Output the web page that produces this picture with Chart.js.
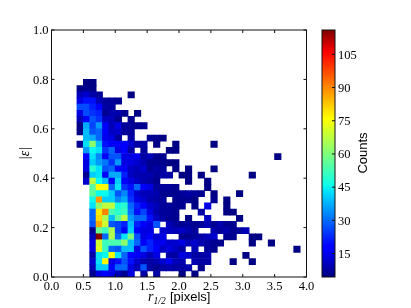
<!DOCTYPE html>
<html>
<head>
<meta charset="utf-8">
<title>Counts</title>
<style>
    html, body { margin: 0; padding: 0; background: #ffffff; }
    canvas { position: absolute; left: 0; top: 0; filter: blur(0.35px); }
</style>
<script src="https://cdn.jsdelivr.net/npm/chart.js@4"></script>
</head>
<body>
<canvas id="chartHist" width="411" height="308"></canvas>
<canvas id="chartBar" width="411" height="308"></canvas>
<script>
// Bin sizes of the 2D histogram
const binX = 0.1;
const binY = 0.025;
const firstCol = 4;

// Counts per row, first line is the top row (j = 31), columns start at r = 0.4, 0 = empty
const counts = [
    [0,5,5],
    [5,6,5],
    [10,12,8,7,0,0,0,0,5],
    [14,20,20,10,7,7,6],
    [27,27,22,17,8,7],
    [14,27,24,22,6,9,9,6,0,5],
    [10,16,28,24,11,10,6,0,6],
    [5,38,26,36,18,10,14,7,7,6,6],
    [5,40,28,30,16,11,12,7,7],
    [0,40,38,30,15,14,7,0,8,0,0,6,6,5],
    [6,44,62,40,20,16,18,17,12,8,8,0,5,0,0,5,0,0,0,0,0,5],
    [0,36,46,44,24,30,14,18,8,0,7,0,0,0,5,5],
    [0,18,44,34,16,28,28,14,14,15,8,10,6,6,0,0,0,0,0,0,0,0,0,0,0,0,0,0,0,0,0,5],
    [0,14,42,36,32,24,36,14,14,12,9,6,6,6,5,5],
    [0,14,50,44,28,30,16,16,11,10,12,6,8,7,0,5,0,5,0,0,0,5],
    [0,6,42,44,16,38,38,22,11,9,9,9,7,8,8,0,5,5,0,5,0,0,0,0,0,0,0,5],
    [0,12,68,46,40,18,42,18,14,11,9,8,6,0,0,0,0,5,0,0,5],
    [0,0,56,76,76,30,44,24,20,30,16,14,7,7,7,6,0,0,0,0,5],
    [0,0,56,46,46,42,28,34,22,12,10,10,9,6,6,6,7,8,7,6,0,5,0,0,0,5],
    [0,0,46,88,42,42,34,38,24,14,12,9,8,7,0,6,6,6,5,0,0,6,0,5],
    [0,0,44,62,68,68,48,50,30,22,16,12,10,7,7,6,6,0,5,0,14,0,0,5],
    [0,0,30,78,90,54,50,52,32,20,26,14,9,7,7,6,0,0,0,8,0,0,0,5,5],
    [0,0,30,80,66,40,56,68,36,30,30,20,11,8,6,6,0,5,0,0,11,0,0,0,0,5],
    [0,0,28,86,70,28,26,22,40,22,18,14,28,0,10,7,6,7,6,7,10,6,9,6,6],
    [0,0,6,58,52,66,26,16,42,18,14,14,0,12,11,10,11,9,7,0,0,9,7,9,6,7,10],
    [0,0,10,116,30,66,30,44,60,28,14,16,12,14,0,0,6,6,7,8,10,12,0,6,6,0,0,5,5],
    [0,0,14,70,52,54,54,62,40,30,16,22,15,15,12,12,14,10,12,9,8,6,6,0,0,0,0,5,0,0,5],
    [0,0,14,72,52,30,28,40,40,14,28,22,17,11,14,11,8,0,10,0,7,6,0,0,0,0,0,0,0,0,0,0,0,0,5],
    [0,0,8,44,46,76,44,30,18,16,14,10,14,0,8,8,14,12,8,8,9,0,0,0,0,0,5],
    [0,0,12,44,76,14,20,28,20,12,9,8,9,12,15,10,9,0,9,8,8,0,0,0,5,0,0,5],
    [0,0,10,42,42,18,30,30,14,10,28,8,6,8,9,8,8,9,0,6],
    [0,0,6,14,18,14,10,6,14,0,8,0,8,0,0,0,5,0,5]
];

const xTicks = [0, 0.5, 1, 1.5, 2, 2.5, 3, 3.5, 4];
const yTicks = [0, 0.2, 0.4, 0.6, 0.8, 1];
const barTicks = [15, 30, 45, 60, 75, 90, 105];

const countMin = 4.4;
const countMax = 116;

// matplotlib jet colormap
const jetStops = [
    [0, '#00007f'], [0.11, '#0000ff'], [0.125, '#0000ff'], [0.34, '#00dcff'], [0.375, '#0fffe7'],
    [0.64, '#ffff00'], [0.66, '#ffee00'], [0.89, '#ff1300'], [0.91, '#ff0000'], [1, '#7f0000']
];

function jetColor(t) {
    const pts = [[0,0,0,127],[0.11,0,0,255],[0.125,0,0,255],[0.35,0,219,255],[0.375,10,255,237],
        [0.64,255,255,0],[0.66,255,236,0],[0.89,255,18,0],[0.91,227,0,0],[1,127,0,0]];
    t = Math.max(0, Math.min(1, t));
    for (let k = 1; k < pts.length; k++) {
        if (t <= pts[k][0]) {
            const a = pts[k - 1], b = pts[k];
            const f = (t - a[0]) / (b[0] - a[0]);
            const mix = n => Math.round(a[n] + (b[n] - a[n]) * f);
            return `rgb(${mix(1)},${mix(2)},${mix(3)})`;
        }
    }
    return 'rgb(127,0,0)';
}

// --- Cells of the histogram ---
const cells = [];
const cellColors = [];
counts.forEach((fila, r) => {
    const j = counts.length - 1 - r;
    fila.forEach((valor, c) => {
        if (valor === 0) return;
        const i = firstCol + c;
        cells.push({ x: (i + 0.5) * binX, y: [j * binY, (j + 1) * binY] });
        cellColors.push(jetColor((valor - countMin) / (countMax - countMin)));
    });
});

const tickFont = { family: 'Liberation Serif', size: 12.5 };

// Inward ticks and frame, same look as the matplotlib axes
const axesFrame = {
    id: 'axesFrame',
    afterDraw(chart, args, opts) {
        const { ctx, chartArea: a, scales } = chart;
        ctx.save();
        ctx.strokeStyle = '#111111';
        ctx.lineWidth = 1;
        const line = (x1, y1, x2, y2) => {
            ctx.beginPath();
            ctx.moveTo(x1, y1);
            ctx.lineTo(x2, y2);
            ctx.stroke();
        };
        (opts.xValues || []).forEach(v => {
            const px = scales.x.getPixelForValue(v);
            line(px, a.bottom, px, a.bottom - 3);
            line(px, a.top, px, a.top + 3);
        });
        (opts.yValues || []).forEach(v => {
            const py = scales.y.getPixelForValue(v);
            if (opts.both !== false) line(a.left, py, a.left + 3, py);
            line(a.right, py, a.right - 3, py);
        });
        ctx.strokeRect(a.left, a.top, a.right - a.left, a.bottom - a.top);
        ctx.restore();
    }
};

// x title has mixed fonts, so it is drawn in three runs
const xTitle = {
    id: 'xTitle',
    afterDraw(chart) {
        const { ctx } = chart;
        ctx.save();
        ctx.fillStyle = '#000000';
        ctx.textBaseline = 'alphabetic';
        ctx.textAlign = 'left';
        ctx.font = 'italic 14px "Liberation Serif"';
        ctx.fillText('r', 148, 301);
        ctx.font = 'italic 9.5px "Liberation Serif"';
        ctx.fillText('1/2', 153.5, 304);
        ctx.font = '13px "Liberation Sans"';
        ctx.fillText('[pixels]', 170, 301);
        ctx.restore();
    }
};

// --- Main histogram ---
new Chart(document.getElementById('chartHist'), {
    type: 'bar',
    data: {
        datasets: [{
            data: cells,
            backgroundColor: cellColors,
            borderWidth: 0,
            barThickness: 6.5
        }]
    },
    options: {
        responsive: false,
        animation: false,
        layout: { padding: { top: 30, right: 104.5, left: 0, bottom: 0 } },
        plugins: {
            legend: { display: false },
            tooltip: { enabled: false },
            axesFrame: { xValues: xTicks, yValues: yTicks }
        },
        scales: {
            x: {
                type: 'linear',
                offset: false,
                min: 0,
                max: 4,
                grid: { display: false, drawTicks: false },
                border: { display: false },
                afterBuildTicks: s => { s.ticks = xTicks.map(v => ({ value: v })); },
                afterFit: s => { s.height = 31; },
                ticks: {
                    color: '#000000',
                    font: tickFont,
                    padding: 2,
                    maxRotation: 0,
                    autoSkip: false,
                    callback: v => v.toFixed(1)
                }
            },
            y: {
                type: 'linear',
                min: 0,
                max: 1,
                grid: { display: false, drawTicks: false },
                border: { display: false },
                afterBuildTicks: s => { s.ticks = yTicks.map(v => ({ value: v })); },
                afterFit: s => { s.width = 51.5; },
                title: {
                    display: true,
                    text: '|ε|',
                    color: '#000000',
                    font: { family: 'Liberation Serif', size: 14, style: 'italic' },
                    padding: { top: 17, bottom: 0 }
                },
                ticks: {
                    color: '#000000',
                    font: tickFont,
                    padding: 3,
                    labelOffset: 1,
                    autoSkip: false,
                    callback: v => v.toFixed(1)
                }
            }
        }
    },
    plugins: [axesFrame, xTitle]
});

// --- Colour bar ---
const canvasBar = document.getElementById('chartBar');
const gradiente = canvasBar.getContext('2d').createLinearGradient(0, 277, 0, 30);
jetStops.forEach(s => gradiente.addColorStop(s[0], s[1]));

const barTitle = {
    id: 'barTitle',
    afterDraw(chart) {
        const { ctx } = chart;
        ctx.save();
        ctx.translate(363, 153);
        ctx.rotate(-Math.PI / 2);
        ctx.textAlign = 'center';
        ctx.textBaseline = 'middle';
        ctx.fillStyle = '#000000';
        ctx.font = '13px "Liberation Sans"';
        ctx.fillText('Counts', 0, 0);
        ctx.restore();
    }
};

new Chart(canvasBar, {
    type: 'bar',
    data: {
        labels: ['Counts'],
        datasets: [{
            data: [[countMin, countMax]],
            backgroundColor: gradiente,
            borderWidth: 0,
            barPercentage: 1,
            categoryPercentage: 1
        }]
    },
    options: {
        responsive: false,
        animation: false,
        layout: { padding: { top: 30, left: 322, right: 0, bottom: 31 } },
        plugins: {
            legend: { display: false },
            tooltip: { enabled: false },
            axesFrame: { yValues: barTicks, both: false }
        },
        scales: {
            x: { display: false },
            y: {
                position: 'right',
                min: countMin,
                max: countMax,
                grid: { display: false, drawTicks: false },
                border: { display: false },
                afterBuildTicks: s => { s.ticks = barTicks.map(v => ({ value: v })); },
                afterFit: s => { s.width = 76; },
                ticks: {
                    color: '#000000',
                    font: tickFont,
                    padding: 3,
                    labelOffset: 1,
                    autoSkip: false
                }
            }
        }
    },
    plugins: [axesFrame, barTitle]
});
</script>
</body>
</html>
